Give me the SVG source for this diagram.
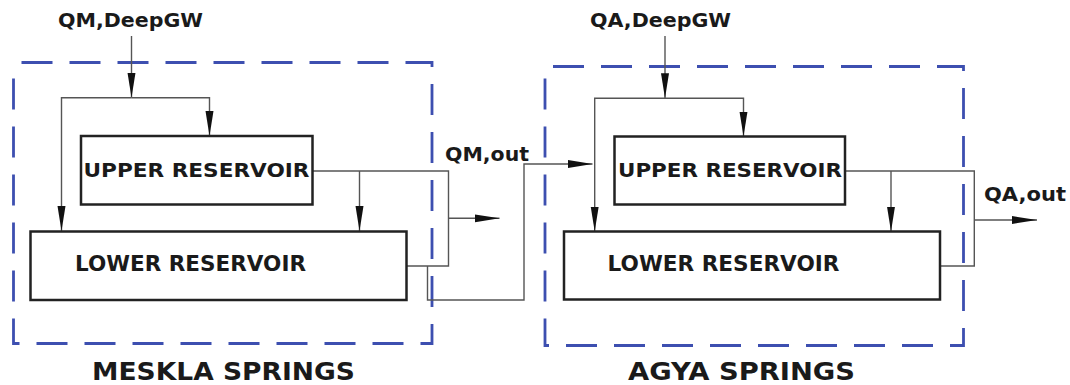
<svg xmlns="http://www.w3.org/2000/svg" width="1070" height="385" viewBox="0 0 1070 385">
  <defs>
    <marker id="arr" markerUnits="userSpaceOnUse" markerWidth="26" markerHeight="10" refX="25" refY="4" orient="auto">
      <path d="M0,0 L25,4 L0,8 Z" fill="#111"/>
    </marker>
    <style>
      .lbl { font-family: "DejaVu Sans", Verdana, sans-serif; font-weight: bold; fill: #1a1a1a; }
      .box { fill: #fff; stroke: #222; stroke-width: 2.5; }
      .frame { fill: none; stroke: #3d4fb0; stroke-width: 2.8; stroke-dasharray: 31 17; }
      .con { fill: none; stroke: #555; stroke-width: 1.4; }
      .arw { marker-end: url(#arr); }
    </style>
  </defs>
  <rect width="1070" height="385" fill="#fff"/>

  <g id="meskla-frame">
    <rect class="frame" x="13.5" y="62.5" width="418.5" height="281" stroke-dashoffset="-8"/>
    <text class="lbl" x="92" y="380" font-size="25" textLength="263" lengthAdjust="spacingAndGlyphs">MESKLA SPRINGS</text>
  </g>
  <g id="agya-frame">
    <rect class="frame" x="545" y="66.5" width="418.5" height="279" stroke-dashoffset="-8"/>
    <text class="lbl" x="628" y="380" font-size="25" textLength="227" lengthAdjust="spacingAndGlyphs">AGYA SPRINGS</text>
  </g>

  <g id="connectors">
    <!-- Meskla -->
    <path class="con arw" d="M131.5,36 V97.7"/>
    <path class="con arw" d="M131.5,97.7 H61.5 V231"/>
    <path class="con arw" d="M131.5,97.7 H209.5 V136"/>
    <path class="con" d="M312.5,171 H448.5 V266 H406.5"/>
    <path class="con arw" d="M359.5,171 V231"/>
    <path class="con arw" d="M448.5,218.3 H499.5"/>
    <path class="con arw" d="M427.5,266 V300 H524 V164 H592.5"/>
    <!-- Agya -->
    <path class="con arw" d="M665,36 V98.3"/>
    <path class="con arw" d="M665,98.3 H594.7 V231.5"/>
    <path class="con arw" d="M665,98.3 H743.5 V136.5"/>
    <path class="con" d="M845,171 H974.3 V266 H940"/>
    <path class="con arw" d="M891,171 V231.5"/>
    <path class="con arw" d="M974.3,220 H1037"/>
  </g>

  <g id="labels">
    <text class="lbl" x="58" y="27" font-size="19" textLength="145" lengthAdjust="spacingAndGlyphs">QM,DeepGW</text>
    <text class="lbl" x="590" y="27" font-size="19" textLength="141" lengthAdjust="spacingAndGlyphs">QA,DeepGW</text>
    <text class="lbl" x="445" y="161" font-size="20" textLength="84" lengthAdjust="spacingAndGlyphs">QM,out</text>
    <text class="lbl" x="984" y="200.5" font-size="20" textLength="82" lengthAdjust="spacingAndGlyphs">QA,out</text>
  </g>

  <g id="meskla-upper">
    <rect class="box" x="81" y="136" width="231.5" height="68.5"/>
    <text class="lbl" x="83.5" y="177" font-size="19.5" textLength="226" lengthAdjust="spacingAndGlyphs">UPPER RESERVOIR</text>
  </g>
  <g id="meskla-lower">
    <rect class="box" x="30.5" y="231.5" width="376" height="68.5"/>
    <text class="lbl" x="75" y="271" font-size="20.5" textLength="231" lengthAdjust="spacingAndGlyphs">LOWER RESERVOIR</text>
  </g>
  <g id="agya-upper">
    <rect class="box" x="614.5" y="136.5" width="230.5" height="68"/>
    <text class="lbl" x="618" y="177" font-size="19.5" textLength="224" lengthAdjust="spacingAndGlyphs">UPPER RESERVOIR</text>
  </g>
  <g id="agya-lower">
    <rect class="box" x="564" y="231.5" width="376" height="68"/>
    <text class="lbl" x="607.5" y="271" font-size="20.5" textLength="232" lengthAdjust="spacingAndGlyphs">LOWER RESERVOIR</text>
  </g>
</svg>
